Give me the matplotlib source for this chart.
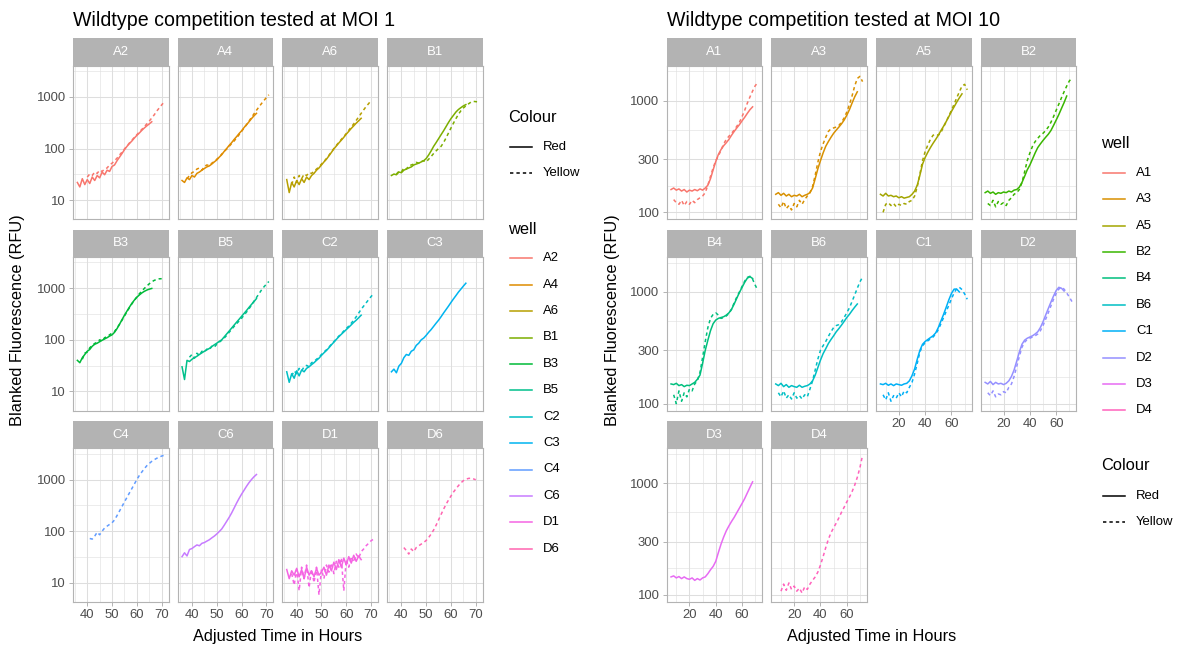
import numpy as np
import matplotlib
matplotlib.use("Agg")
import matplotlib.pyplot as plt
from matplotlib.lines import Line2D
from matplotlib.ticker import NullFormatter, FixedFormatter

plt.rcParams['font.family'] = ['Liberation Sans', 'DejaVu Sans']

# ---------------------------------------------------------------- data
# Readings are on a regular time grid: (first hour, values) per well.
moi1_wells = ["A2", "A4", "A6", "B1", "B3", "B5", "C2", "C3", "C4", "C6", "D1", "D6"]
moi1_step = 1.0
moi1_red = {
    "A2": (36, [22, 18, 26, 20, 25, 21, 28, 24, 30, 27, 35, 31, 38, 36, 45, 48, 58, 68, 80, 95,
                110, 125, 140, 160, 180, 200, 225, 250, 275, 300, 330]),
    "A4": (36, [24, 22, 27, 25, 30, 28, 33, 35, 38, 41, 44, 46, 50, 55, 60, 68, 76, 88, 100, 115,
                130, 150, 170, 195, 220, 255, 290, 330, 380, 430, 480]),
    "A6": (36, [25, 14, 22, 18, 24, 20, 26, 22, 28, 25, 30, 33, 38, 42, 48, 55, 62, 72, 84, 98,
                112, 128, 145, 165, 190, 215, 245, 275, 310, 345, 385]),
    "B1": (36, [30, 32, 31, 35, 34, 38, 40, 42, 44, 48, 50, 52, 55, 58, 64, 75, 90, 110, 130, 155,
                185, 220, 265, 320, 380, 440, 510, 570, 620, 670, 710]),
    "B3": (36, [40, 36, 45, 52, 60, 65, 75, 82, 86, 92, 98, 104, 110, 118, 125, 140, 165, 200, 245, 300,
                360, 430, 510, 590, 670, 740, 810, 870, 920, 960, 990]),
    "B5": (36, [30, 17, 40, 38, 42, 45, 48, 52, 56, 60, 64, 68, 74, 80, 86, 93, 100, 114, 130, 148,
                169, 193, 220, 250, 285, 325, 370, 425, 485, 550, 630]),
    "C2": (36, [24, 15, 22, 18, 25, 20, 26, 24, 28, 30, 33, 36, 40, 44, 50, 56, 62, 70, 80, 90,
                102, 115, 128, 142, 158, 175, 195, 218, 240, 268, 300]),
    "C3": (36, [24, 27, 23, 31, 35, 45, 52, 50, 60, 64, 78, 86, 100, 108, 122, 140, 158, 182, 210, 240,
                280, 330, 385, 450, 530, 620, 720, 840, 960, 1100, 1250]),
    "C6": (36, [32, 38, 33, 44, 46, 50, 54, 52, 58, 60, 64, 68, 74, 80, 88, 98, 110, 130, 155, 185,
                225, 280, 350, 430, 520, 620, 740, 870, 1000, 1130, 1250]),
    "D1": (36, [18, 12, 17, 14, 19, 13, 18, 12, 20, 14, 17, 13, 19, 14, 16, 20, 14, 22, 17, 25,
                18, 28, 20, 30, 22, 32, 24, 34, 26, 33, 28]),
}
moi1_yellow = {
    "A2": (40, [28, 32, 30, 35, 33, 38, 36, 40, 42, 48, 52, 58, 65, 75, 85, 98, 112, 128, 145, 165,
                185, 210, 235, 265, 300, 340, 390, 450, 530, 610, 700, 800]),
    "A4": (38, [26, 30, 34, 36, 40, 42, 38, 45, 48, 47, 52, 56, 62, 68, 78, 88, 98, 110, 125, 140,
                160, 185, 215, 250, 290, 340, 400, 470, 550, 640, 740, 850, 970, 1100]),
    "A6": (38, [20, 28, 22, 30, 26, 32, 30, 34, 33, 36, 40, 44, 50, 56, 64, 74, 86, 100, 115, 132,
                150, 170, 195, 225, 260, 300, 350, 410, 480, 560, 650, 740, 850]),
    "B1": (38, [32, 36, 35, 42, 40, 46, 48, 50, 54, 52, 56, 58, 55, 62, 70, 80, 90, 100, 110, 130,
                160, 200, 250, 310, 380, 460, 540, 610, 670, 730, 790, 820, 810, 800]),
    "B3": (38, [42, 55, 58, 70, 78, 85, 90, 100, 95, 110, 115, 125, 135, 145, 170, 200, 240, 290, 350, 420,
                500, 580, 680, 780, 880, 990, 1100, 1220, 1330, 1420, 1480, 1520, 1530]),
    "B5": (39, [46, 52, 44, 55, 50, 60, 58, 66, 64, 75, 72, 82, 90, 98, 108, 122, 140, 160, 182, 205,
                232, 262, 300, 345, 400, 470, 560, 660, 780, 920, 1060, 1200, 1350]),
    "C2": (38, [20, 25, 22, 28, 25, 30, 32, 30, 36, 38, 42, 46, 52, 58, 64, 72, 82, 92, 104, 118,
                132, 148, 165, 185, 210, 240, 280, 330, 390, 450, 520, 600, 690, 780]),
    "C4": (41, [72, 70, 80, 95, 85, 100, 115, 125, 135, 145, 165, 200, 245, 300, 370, 450, 550, 670, 820, 1000,
                1200, 1400, 1620, 1850, 2050, 2250, 2420, 2580, 2720, 2850, 2950]),
    "D1": (38, [15, 9, 18, 7, 20, 12, 22, 8, 18, 10, 20, 5.8, 18, 12, 22, 16, 24, 15, 26, 20,
                30, 7, 28, 20, 32, 25, 36, 30, 40, 45, 52, 58, 65, 70]),
    "D6": (41, [48, 42, 36, 45, 40, 48, 52, 56, 60, 66, 75, 88, 105, 130, 165, 210, 265, 330, 400, 480,
                570, 660, 760, 860, 950, 1010, 1050, 1060, 1030, 990]),
}

moi10_wells = ["A1", "A3", "A5", "B2", "B4", "B6", "C1", "D2", "D3", "D4"]
moi10_step = 2.0
moi10_red = {
    "A1": (6, [160, 165, 158, 162, 155, 160, 152, 158, 155, 160, 156, 162, 158, 165, 175, 200, 240, 285, 330, 365,
               395, 420, 450, 490, 530, 570, 610, 660, 710, 770, 830, 880]),
    "A3": (6, [145, 150, 142, 148, 140, 145, 138, 142, 140, 145, 138, 142, 145, 150, 165, 200, 245, 290, 340, 390,
               430, 470, 510, 545, 580, 620, 670, 740, 830, 950, 1080, 1200]),
    "A5": (6, [145, 140, 148, 140, 142, 138, 140, 135, 138, 134, 136, 138, 145, 155, 175, 215, 270, 310, 345, 380,
               415, 450, 490, 540, 590, 650, 720, 800, 880, 970, 1060, 1150]),
    "B2": (6, [150, 155, 148, 152, 145, 150, 148, 152, 150, 155, 152, 158, 160, 168, 185, 210, 240, 265, 300, 340,
               380, 410, 440, 470, 500, 540, 600, 670, 750, 850, 960, 1100]),
    "B4": (6, [150, 148, 152, 145, 148, 142, 146, 145, 150, 155, 165, 180, 230, 300, 370, 450, 520, 560, 580, 590,
               600, 620, 650, 700, 780, 880, 990, 1100, 1220, 1330, 1370, 1320]),
    "B6": (6, [150, 145, 152, 142, 148, 140, 145, 142, 140, 146, 140, 143, 145, 150, 160, 180, 210, 245, 280, 310,
               345, 375, 405, 440, 470, 505, 545, 590, 630, 680, 730, 780]),
    "C1": (6, [150, 148, 152, 146, 150, 145, 150, 148, 146, 150, 152, 160, 178, 205, 250, 300, 340, 360, 375, 390,
               405, 430, 480, 550, 630, 730, 850, 970, 1060, 1060, 1000]),
    "D2": (6, [155, 150, 158, 148, 155, 150, 152, 148, 152, 160, 175, 200, 240, 290, 340, 370, 385, 395, 405, 420,
               440, 480, 540, 620, 710, 810, 920, 1030, 1100, 1080, 1020]),
    "D3": (6, [145, 148, 142, 146, 140, 145, 140, 138, 142, 135, 140, 136, 142, 145, 155, 168, 180, 200, 240, 285,
               330, 375, 415, 455, 495, 545, 600, 660, 730, 820, 920, 1030]),
}
moi10_yellow = {
    "A1": (8, [130, 122, 118, 128, 115, 125, 118, 128, 122, 130, 135, 140, 150, 175, 210, 250, 290, 320, 360, 410,
               450, 480, 510, 545, 590, 640, 720, 820, 950, 1080, 1220, 1360, 1460]),
    "A3": (8, [118, 110, 125, 108, 115, 105, 120, 112, 128, 118, 130, 140, 150, 170, 215, 280, 350, 410, 470, 530,
               560, 570, 580, 600, 640, 700, 790, 920, 1100, 1350, 1580, 1650, 1480]),
    "A5": (8, [100, 118, 122, 115, 120, 112, 118, 115, 120, 118, 125, 128, 140, 170, 220, 290, 350, 400, 450, 490,
               500, 490, 520, 580, 650, 730, 820, 930, 1060, 1200, 1350, 1400, 1250]),
    "B2": (8, [120, 115, 128, 112, 125, 118, 122, 115, 128, 135, 145, 150, 160, 185, 230, 290, 340, 390, 430, 460,
               490, 510, 540, 580, 640, 720, 820, 930, 1060, 1200, 1350, 1500, 1600]),
    "B4": (8, [120, 100, 130, 105, 125, 115, 135, 130, 150, 160, 190, 260, 360, 480, 580, 630, 650, 620, 580, 590,
               610, 640, 700, 800, 900, 1000, 1120, 1250, 1350, 1380, 1300, 1150, 1030]),
    "B6": (8, [125, 115, 130, 112, 120, 110, 125, 112, 118, 110, 120, 115, 135, 160, 200, 250, 300, 330, 360, 400,
               440, 480, 500, 510, 540, 590, 650, 720, 820, 940, 1080, 1230, 1360]),
    "C1": (8, [120, 108, 125, 105, 118, 112, 125, 115, 130, 125, 140, 155, 185, 230, 290, 330, 350, 365, 380, 395,
               420, 460, 520, 590, 670, 760, 870, 980, 1070, 1100, 1050, 960, 860]),
    "D2": (8, [125, 118, 130, 115, 122, 120, 128, 125, 140, 150, 175, 215, 265, 320, 355, 375, 385, 395, 405, 420,
               450, 500, 570, 650, 750, 860, 970, 1060, 1100, 1060, 980, 900, 820]),
    "D4": (10, [108, 125, 110, 128, 112, 120, 108, 115, 104, 118, 112, 125, 135, 145, 160, 185, 220, 265, 315, 360,
                400, 440, 490, 550, 610, 680, 750, 840, 960, 1130, 1380, 1780]),
}

moi1_palette = ["#F8766D", "#DE8C00", "#B79F00", "#7CAE00", "#00BA38", "#00C08B",
                "#00BFC4", "#00B4F0", "#619CFF", "#C77CFF", "#F564E3", "#FF64B0"]
moi10_palette = ["#F8766D", "#D89000", "#A3A500", "#39B600", "#00BF7D",
                 "#00BFC4", "#00B0F6", "#9590FF", "#E76BF3", "#FF62BC"]

moi1_xbreaks = [40, 50, 60, 70]
moi1_xminor = [35, 45, 55, 65, 75]
moi1_ybreaks = [10, 100, 1000]
moi1_ylabels = ["10", "100", "1000"]
moi10_xbreaks = [20, 40, 60]
moi10_xminor = [0, 10, 30, 50, 70]
moi10_ybreaks = [100, 300, 1000]
moi10_ylabels = ["100", "300", "1000"]

# ---------------------------------------------------------------- layout
W, H = 1179, 648
fig = plt.figure(figsize=(W / 100, H / 100), dpi=100)
fig.patch.set_facecolor("white")

GREY70 = "#B3B3B3"
GRID = "#DEDEDE"
TXT30 = "#4D4D4D"
BASE = 11.8
SMALL = BASE * 0.8

COL_PITCH = 104.7
PW = 95.5
ROW_TOP = 38.3
ROW_PITCH = 191.3
STRIP_H = 27.4
PH = 153.6


def frac(x0, y0, w, h):
    return [x0 / W, 1 - (y0 + h) / H, w / W, h / H]


def series_times(t0, values, step):
    return t0 + step * np.arange(len(values))


def expanded(lo, hi, log=False):
    if log:
        lo, hi = np.log10(lo), np.log10(hi)
        pad = (hi - lo) * 0.05
        return 10 ** (lo - pad), 10 ** (hi + pad)
    pad = (hi - lo) * 0.05
    return lo - pad, hi + pad


def minor_log_breaks(major):
    lm = np.log10(major)
    d = np.diff(lm)
    ext = np.concatenate([[lm[0] - d[0]], lm, [lm[-1] + d[-1]]])
    return list(10 ** ((ext[:-1] + ext[1:]) / 2))


def draw_block(x_left, wells, palette, red, yellow, step,
               xbreaks, xminor, ybreaks, ylabels):
    all_t, all_v = [], []
    for d in (red, yellow):
        for t0, vals in d.values():
            t = series_times(t0, vals, step)
            all_t += [t.min(), t.max()]
            all_v += [min(vals), max(vals)]
    xlim = expanded(min(all_t), max(all_t))
    ylim = expanded(min(all_v), max(all_v), log=True)
    yminor = minor_log_breaks(ybreaks)
    n = len(wells)
    for i, well in enumerate(wells):
        r, c = divmod(i, 4)
        x0 = x_left + c * COL_PITCH
        ytop = ROW_TOP + r * ROW_PITCH

        sax = fig.add_axes(frac(x0, ytop, PW, STRIP_H))
        sax.set_facecolor(GREY70)
        sax.set_xticks([]); sax.set_yticks([])
        for s in sax.spines.values():
            s.set_visible(False)
        sax.text(0.5, 0.5, well, color="white", fontsize=SMALL,
                 ha="center", va="center", transform=sax.transAxes)

        ax = fig.add_axes(frac(x0, ytop + STRIP_H, PW, PH))
        ax.set_yscale("log")
        colour = palette[i]
        if well in red:
            t0, vals = red[well]
            ax.plot(series_times(t0, vals, step), vals, color=colour, lw=1.1,
                    solid_joinstyle="round")
        if well in yellow:
            t0, vals = yellow[well]
            ax.plot(series_times(t0, vals, step), vals, color=colour, lw=1.1,
                    dashes=(2.2, 2.0))
        ax.set_xlim(*xlim)
        ax.set_ylim(*ylim)
        ax.set_xticks(xbreaks)
        ax.set_xticks([m for m in xminor if xlim[0] < m < xlim[1]], minor=True)
        ax.set_yticks(ybreaks)
        ax.set_yticks([m for m in yminor if ylim[0] < m < ylim[1]], minor=True)
        ax.yaxis.set_minor_formatter(NullFormatter())
        ax.grid(which="major", color=GRID, lw=0.75)
        ax.grid(which="minor", color=GRID, lw=0.4)
        ax.set_axisbelow(True)
        for s in ax.spines.values():
            s.set_color(GREY70)
            s.set_linewidth(0.8)
        ax.tick_params(which="minor", length=0)
        ax.tick_params(which="major", color=GREY70, width=0.7, length=2.9,
                       pad=2.3, labelsize=SMALL, labelcolor=TXT30)
        if c == 0:
            ax.yaxis.set_major_formatter(FixedFormatter(ylabels))
        else:
            ax.tick_params(axis="y", length=0, labelleft=False)
        if i + 4 >= n:
            ax.set_xticklabels([str(b) for b in xbreaks])
        else:
            ax.tick_params(axis="x", length=0, labelbottom=False)


draw_block(73.0, moi1_wells, moi1_palette, moi1_red, moi1_yellow, moi1_step,
           moi1_xbreaks, moi1_xminor, moi1_ybreaks, moi1_ylabels)
draw_block(666.7, moi10_wells, moi10_palette, moi10_red, moi10_yellow, moi10_step,
           moi10_xbreaks, moi10_xminor, moi10_ybreaks, moi10_ylabels)


# ---------------------------------------------------------------- text
def ftext(x, y, s, **kw):
    fig.text(x / W, 1 - y / H, s, **kw)


ftext(73, 25.5, "Wildtype competition tested at MOI 1", fontsize=BASE * 1.2, va="baseline")
ftext(666.7, 25.5, "Wildtype competition tested at MOI 10", fontsize=BASE * 1.2, va="baseline")
for xc in (277.7, 871.5):
    ftext(xc, 636, "Adjusted Time in Hours", fontsize=BASE, ha="center", va="center")
for xc in (18, 613):
    ftext(xc, 320, "Blanked Fluorescence (RFU)", fontsize=BASE, ha="center", va="center",
          rotation=90)


def key(x, y, text, colour, dashed=False):
    kw = dict(dashes=(2.2, 2.0)) if dashed else {}
    fig.add_artist(Line2D([x / W, (x + 22) / W], [1 - y / H, 1 - y / H], color=colour,
                          lw=1.1, transform=fig.transFigure, **kw))
    ftext(x + 33, y, text, fontsize=SMALL, va="center")


def colour_legend(x, y):
    ftext(x - 2, y, "Colour", fontsize=BASE, va="center")
    key(x, y + 30, "Red", "black")
    key(x, y + 56.3, "Yellow", "black", dashed=True)


def well_legend(x, y, wells, palette):
    ftext(x - 2, y, "well", fontsize=BASE, va="center")
    for k, (w, col) in enumerate(zip(wells, palette)):
        key(x, y + 29.3 + 26.4 * k, w, col)


colour_legend(510, 117)
well_legend(510, 229, moi1_wells, moi1_palette)
well_legend(1103, 143.5, moi10_wells, moi10_palette)
colour_legend(1103, 466)

fig.savefig("out.png", dpi=100, facecolor="white")
